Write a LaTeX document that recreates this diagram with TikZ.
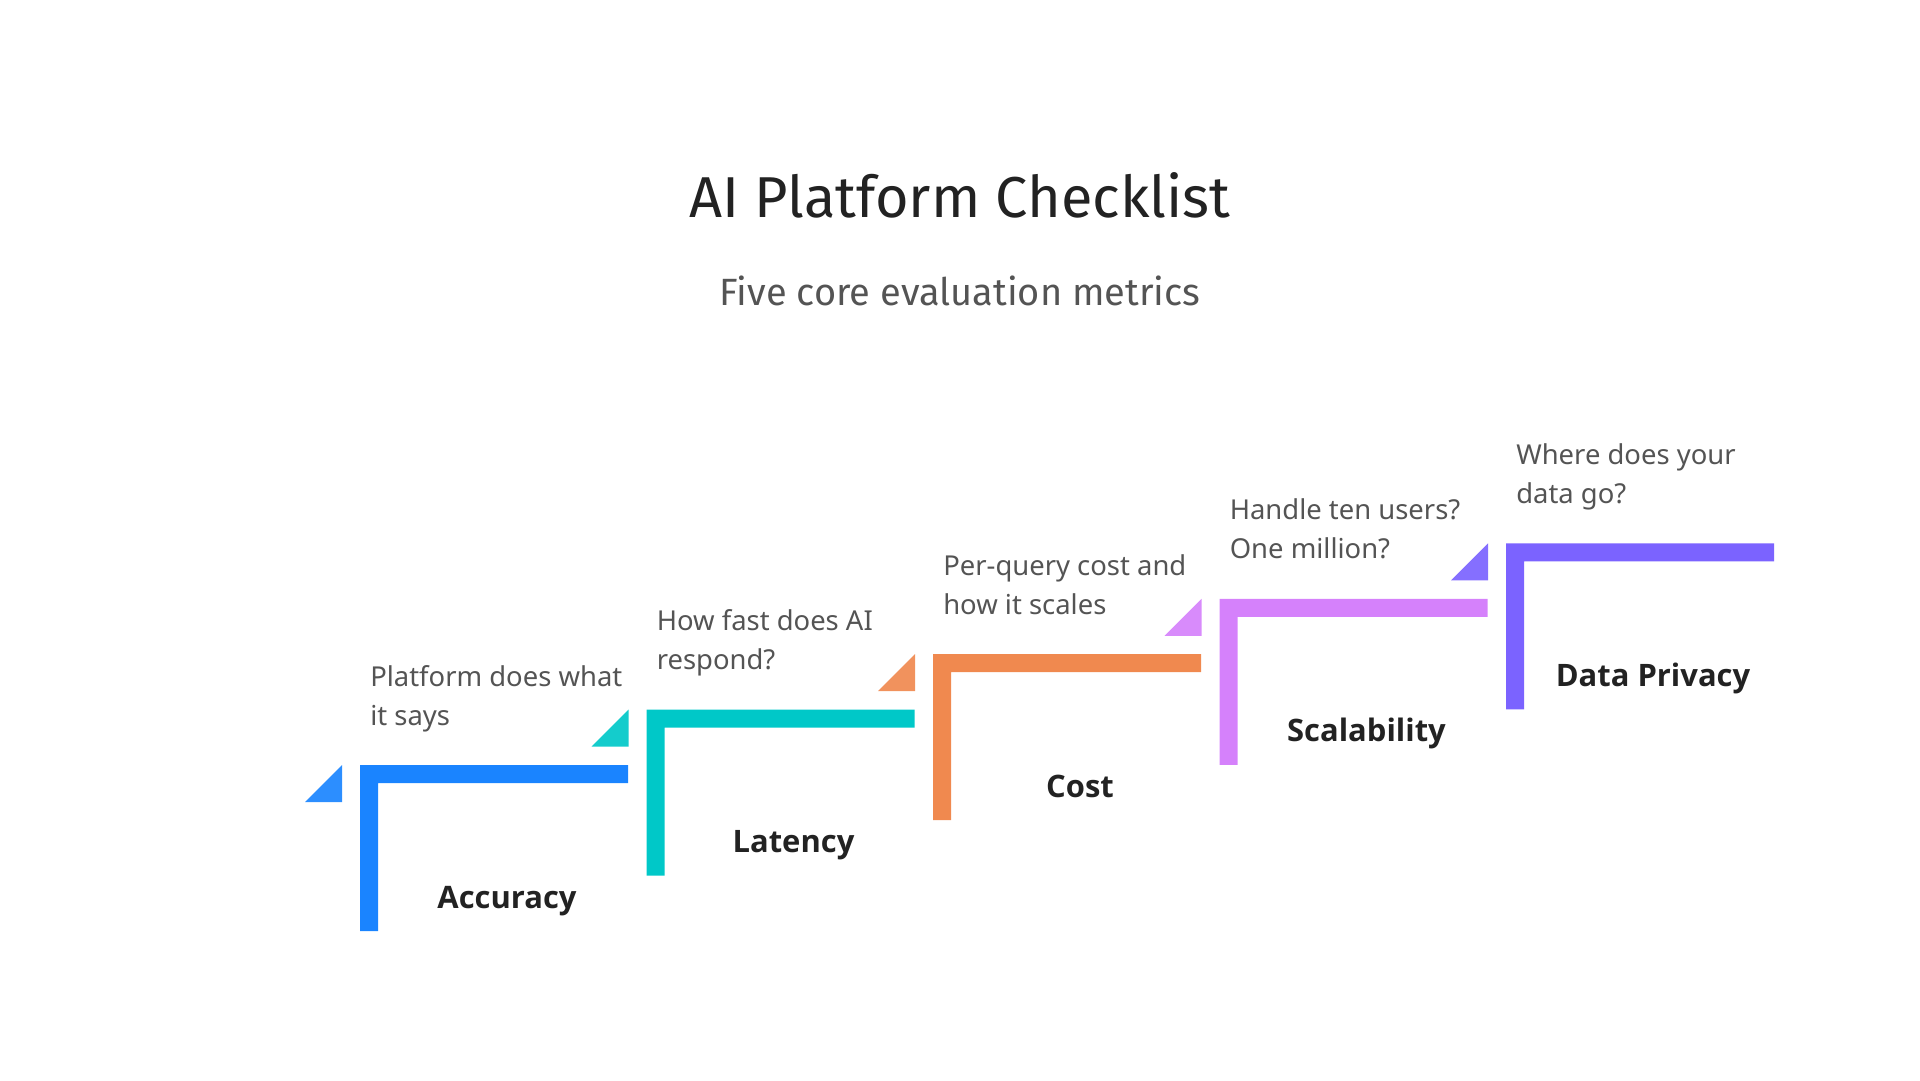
\documentclass[tikz,border=0pt]{standalone}
\usepackage{fontspec}
\setmainfont{Noto Sans}
\newfontfamily\headfont{Fira Sans}
\newfontfamily\labelfont{Open Sans}
\usetikzlibrary{positioning}
\definecolor{ink}{HTML}{222222}
\definecolor{muted}{HTML}{545454}
\definecolor{accblue}{HTML}{1A84FF}
\definecolor{latteal}{HTML}{00C8C8}
\definecolor{costorange}{HTML}{F0894F}
\definecolor{scalepink}{HTML}{D581FB}
\definecolor{privviolet}{HTML}{7B63FF}
\tikzset{
  titletext/.style={anchor=base, text=ink, font=\headfont\fontsize{41}{48}\selectfont, inner sep=0pt},
  subtext/.style={anchor=base, text=muted, font=\headfont\fontsize{27}{32}\selectfont, inner sep=0pt},
  desctext/.style={anchor=base west, text=muted, align=left, inner sep=0pt,
                   font=\fontsize{19.5}{27.7}\selectfont},
  labeltext/.style={anchor=base, text=ink, inner sep=0pt,
                    font=\labelfont\bfseries\fontsize{22}{28}\selectfont},
  cornermark/.style={fill=#1, opacity=0.92, draw=none}
}

\begin{document}
\begin{tikzpicture}[x=0.025cm,y=-0.025cm]
  \useasboundingbox (0,0) rectangle (1920,1080);

  % heading
  \node[titletext] (title) at (960,217) {AI Platform Checklist};
  \node[subtext] (subtitle) at (960,305) {Five core evaluation metrics};

  % staircase of metrics
  \foreach \i/\col/\key/\lbl/\desc in {
      0/accblue/acc/Accuracy/{Platform does what\\it says},
      1/latteal/lat/Latency/{How fast does AI\\respond?},
      2/costorange/cost/Cost/{Per-query cost and\\how it scales},
      3/scalepink/scal/Scalability/{Handle ten users?\\One million?},
      4/privviolet/priv/Data Privacy/{Where does your\\data go?}} {
    \pgfmathsetmacro\lx{360+286.5*\i}
    \pgfmathsetmacro\ty{765-55.4*\i}
    \fill[cornermark=\col] (\lx-55,\ty+37) -- (\lx-18,\ty+37) -- (\lx-18,\ty) -- cycle;
    \fill[\col] (\lx,\ty+166) -- (\lx,\ty) -- (\lx+268,\ty) -- (\lx+268,\ty+18)
      -- (\lx+18,\ty+18) -- (\lx+18,\ty+166) -- cycle;
    \node[desctext] (\key-desc) at (\lx+10,\ty-40) {\desc};
    \node[labeltext] (\key-label) at (\lx+147,\ty+143) {\lbl};
  }
\end{tikzpicture}
\end{document}
